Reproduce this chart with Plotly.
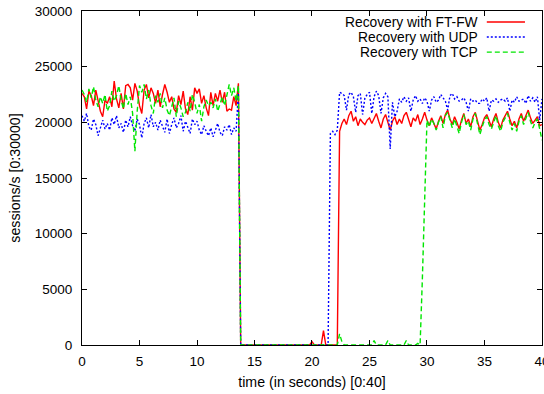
import numpy as np
import plotly.graph_objects as go

# sample times (seconds), 0.2 s resolution
time_s = np.round(np.arange(0, 40.0001, 0.2), 1)

ftfw = [
    22600, 22300, 21200, 22800, 22400, 21500, 22900, 21800, 21000, 20500,
    22000, 21700, 22300, 21400, 23700, 22100, 21300, 22600, 21200, 23300,
    23400, 23100, 22000, 23500, 22800, 21500, 20800, 22900, 23400, 22200,
    23100, 22600, 21700, 22900, 21400, 22500, 23400, 22700, 21800, 22300,
    21200, 20900, 22400, 21600, 22800, 21200, 20700, 22300, 21100, 23100,
    22600, 23000, 21700, 22400, 21300, 20600, 22700, 21500, 22600, 21900,
    22900, 21800, 22700, 21000, 21200, 21100, 22300, 21500, 23500,
    0, 0, 0, 0, 0, 0, 0, 0, 0, 0,
    0, 0, 0, 0, 0, 0, 0, 0, 0, 0,
    0, 0, 0, 0, 0, 0, 0, 0, 0, 0,
    0,
    300, 0, 0, 0, 0, 1300, 0, 0, 0, 0, 0, 0,
    19200,
    19900, 20300, 19800, 20600, 21000, 20100, 20500, 19700, 20300, 20000,
    19800, 20200, 20400, 19900, 20300, 20800, 20100, 19500, 20300, 20700,
    20000, 19300, 20100, 20500, 19800, 20300, 19900, 20600, 20900, 20200,
    19600, 20400, 20100, 20700, 19800, 20300, 20900, 20200, 19700, 20400,
    19800, 19400, 20100, 20600, 19900, 20700, 21100, 20300, 19800, 20500,
    20000, 19400, 20200, 20800, 19900, 20300, 19600, 20500, 20900, 20200,
    19300, 19800, 20400, 20700, 20100, 19600, 20300, 20800, 20000, 19500,
    20200, 20600, 21000, 20300, 19700, 20100, 19500, 20300, 20800, 20100,
    20600, 21100, 20400, 19900, 20200, 20500, 19700, 19800,
]

udp = [
    20600, 20100, 20800, 19600, 19300, 20300, 19800, 18800, 19500, 20200,
    19400, 19900, 19300, 20400, 19800, 20600, 19500, 19900, 19100, 20200,
    19600, 20500, 19700, 19200, 20300, 19800, 18600, 19900, 20400, 19500,
    20700, 19600, 20000, 19300, 20200, 19700, 19100, 20300, 19000, 19800,
    20400, 19500, 19900, 20600, 19200, 20100, 19600, 19000, 20300, 19800,
    20100, 19300, 18900, 19700, 19200, 18800, 19500, 18700, 19300, 19900,
    19100, 18800, 19600, 19300, 19800, 18900, 19500, 19200, 22800,
    0, 0, 0, 0, 0, 0, 0, 0, 0, 0,
    0, 0, 0, 0, 0, 0, 0, 0, 0, 0,
    0, 0, 0, 0, 0, 0, 0, 0, 0, 0,
    0, 0, 0, 0, 0, 0, 0, 0, 0,
    19000, 19200, 18900, 19300,
    22700,
    22600, 22400, 21100, 22500, 22700, 22300, 20900, 22400, 22600, 20700,
    22200, 22500, 22700, 20800, 22300, 22800, 22400, 20800, 22200, 22600,
    22300, 17600, 21800, 20500, 21000, 22100, 21800, 22300, 21900, 22200,
    21000, 22000, 22400, 21900, 22100, 21700, 22200, 21900, 21000, 22000,
    22300, 21800, 22000, 22500, 22200, 21900, 21100, 22400, 22600, 22100,
    22300, 21900, 22000, 22200, 21800, 21000, 22100, 21900, 22000, 21700,
    21700, 22100, 21900, 22200, 21000, 22000, 21900, 22100, 21800, 22000,
    22100, 21900, 22200, 21000, 22000, 21800, 22300, 21900, 22000, 22100,
    21700, 22400, 21900, 22200, 21800, 22300, 20200, 22100,
]

tcp = [
    22900, 22500, 21800, 23000, 22200, 23200, 22000, 21400, 22300, 21700,
    22500, 21000, 21500, 22800, 21900, 22400, 23300, 22000, 21200, 22600,
    21600, 22300, 20800, 17400, 21000, 23300, 22700, 23400, 22100, 22900,
    21500, 20800, 22400, 21800, 22600, 21300, 22200, 21100, 20600, 21400,
    22200, 20500, 21900, 21300, 20500, 20900, 21800, 21000, 22500, 21800,
    20800, 21600, 20100, 21400, 22000, 21500, 21800, 21300, 22100, 21000,
    21700, 22300, 21500, 22600, 23400, 22400, 23100, 21900, 23300,
    0, 0, 0, 0, 0, 0, 0, 0, 0, 0,
    0, 0, 0, 0, 0, 0, 0, 0, 0, 0,
    0, 0, 0, 0, 0, 0, 0, 0, 0, 0,
    0, 0, 0, 0, 0, 0, 0, 0, 0, 0,
    0, 0, 0,
    1000, 300,
    0, 0, 0, 0, 0, 0, 0, 0, 0, 0, 0, 0, 0,
    400,
    0, 0, 0, 0, 0,
    400,
    0, 0, 0, 0, 0, 0, 0,
    400,
    0, 0, 0, 0,
    150,
    0,
    6000, 14000,
    20200, 19600, 20300, 19900, 19300, 20000, 20500, 19500, 20600, 20900,
    20100, 19500, 20300, 19700, 19000, 20000, 20700, 19800, 20100, 19300,
    20300, 20800, 19900, 18900, 19600, 20200, 20500, 19800, 19400, 20100,
    20600, 19700, 19200, 20000, 20400, 20800, 20000, 19300, 19900, 19200,
    20100, 20600, 19800, 20400, 20900, 20100, 19500, 20000, 20300, 19400,
    18400,
]

x_ticks = [0, 5, 10, 15, 20, 25, 30, 35, 40]
y_ticks = [0, 5000, 10000, 15000, 20000, 25000, 30000]

assert len(time_s) == 201, len(time_s)
assert len(ftfw) == 201, ("ftfw", len(ftfw))
assert len(udp) == 201, ("udp", len(udp))
assert len(tcp) == 201, ("tcp", len(tcp))

names = ["Recovery with FT-FW", "Recovery with UDP", "Recovery with TCP"]
colors = ["#ff0000", "#0000ff", "#00e600"]
dashes = ["solid", "2px,2px", "5px,3px"]
series = [ftfw, udp, tcp]

FONT = "Liberation Sans, Arial, Helvetica, sans-serif"

fig = go.Figure()
for name, col, dash, vals in zip(names, colors, dashes, series):
    fig.add_trace(go.Scatter(
        x=time_s, y=vals, mode="lines", name=name,
        line=dict(color=col, width=1.4, dash=dash),
        showlegend=False,
    ))

# manual gnuplot-style legend (text right-aligned, sample on the right)
row_y = [0.967, 0.922, 0.877]
for name, col, dash, yy in zip(names, colors, dashes, row_y):
    fig.add_annotation(x=0.8587, y=yy, xref="paper", yref="paper",
                       text=name, showarrow=False, xanchor="right",
                       yanchor="middle", xshift=2, borderpad=0,
                       font=dict(size=13.8, color="#000", family=FONT))
    fig.add_shape(type="line", xref="paper", yref="paper",
                  x0=0.880, x1=0.963, y0=yy, y1=yy,
                  line=dict(color=col, width=1.4, dash=dash))

fig.update_layout(
    width=544, height=394,
    margin=dict(l=82, r=2, t=11, b=49),
    paper_bgcolor="white", plot_bgcolor="white",
    font=dict(family=FONT, size=13.5, color="#000"),
)
fig.update_xaxes(
    range=[0, 40.001], tickmode="array", tickvals=x_ticks,
    ticktext=[str(v) for v in x_ticks],
    ticks="inside", ticklen=5, tickcolor="#000", mirror="ticks",
    showline=True, linecolor="#000", linewidth=1, showgrid=False, zeroline=False,
    title=dict(text="time (in seconds) [0:40]", standoff=8, font=dict(size=14.2)),
    ticklabelstandoff=4, automargin=False, ticklabeloverflow="allow",
)
fig.update_yaxes(
    range=[0, 30000], tickmode="array", tickvals=y_ticks,
    ticktext=[str(v) for v in y_ticks],
    ticks="inside", ticklen=5, tickcolor="#000", mirror="ticks",
    showline=True, linecolor="#000", linewidth=1, showgrid=False, zeroline=False,
    title=dict(text="sessions/s [0:30000]", standoff=10, font=dict(size=14.2)),
    ticklabelstandoff=6, automargin=False,
)

fig.write_html("out.html")
